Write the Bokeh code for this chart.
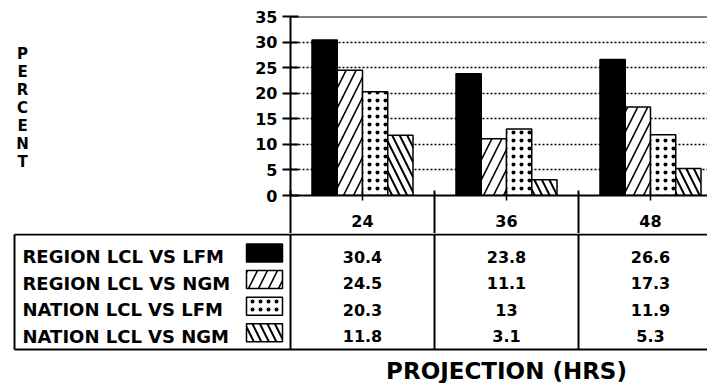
from bokeh.plotting import figure
from bokeh.layouts import column, row
from bokeh.models import Range1d, FixedTicker, Span
from bokeh.core.properties import value
from bokeh.embed import file_html
from bokeh.resources import INLINE

# ---- data ----
projections = ["24", "36", "48"]
series_names = ["REGION LCL VS LFM", "REGION LCL VS NGM",
                "NATION LCL VS LFM", "NATION LCL VS NGM"]
region_lfm = [30.4, 23.8, 26.6]
region_ngm = [24.5, 11.1, 17.3]
nation_lfm = [20.3, 13, 11.9]
nation_ngm = [11.8, 3.1, 5.3]
y_ticks = [0, 5, 10, 15, 20, 25, 30, 35]
y_label = "PERCENT"
x_title = "PROJECTION (HRS)"

series = [region_lfm, region_ngm, nation_lfm, nation_ngm]

# ---- styles ----
FONT = value("DejaVu Sans")
styles = [
    dict(fill_color="black"),
    dict(fill_color="white", hatch_pattern="/", hatch_color="black", hatch_scale=20, hatch_weight=1.6),
    dict(fill_color="white", hatch_pattern=".", hatch_color="black", hatch_scale=8, hatch_weight=1.0),
    dict(fill_color="white", hatch_pattern="\\", hatch_color="black", hatch_scale=15, hatch_weight=2),
]

PX = 144.0          # pixels per projection category
LEFT = 290.0        # pixel x of y axis
FR_TOP, FR_BOT = 16, 195   # pixel rows of chart frame
def cx(px):
    return (px - LEFT) / PX - 0.5

# ---- left panel with stacked "PERCENT" (frame aligned with chart frame) ----
figL = figure(width=245, height=233, x_range=Range1d(0, 245), y_range=Range1d(0, FR_BOT - FR_TOP),
              output_backend="svg", toolbar_location=None,
              x_axis_location=None, y_axis_location=None,
              min_border_left=0, min_border_right=0, min_border_top=FR_TOP, min_border_bottom=233 - FR_BOT)
figL.outline_line_color = None
figL.grid.visible = False
letters = list(y_label)
figL.text(x=[22] * len(letters), y=[FR_BOT - (53 + 18.1 * i) for i in range(len(letters))],
          text=letters, text_font=FONT, text_font_style="bold", text_font_size="15px",
          text_align="center", text_baseline="middle", text_color="black")

# ---- chart ----
chart = figure(width=462, height=233,
               x_range=Range1d(-0.5, -0.5 + (707 - LEFT) / PX), y_range=Range1d(0, 35),
               output_backend="svg", toolbar_location=None,
               min_border_left=45, min_border_right=0, min_border_top=FR_TOP, min_border_bottom=233 - FR_BOT)
chart.outline_line_color = None

bw = 25.25 / PX
for j, (vals, st) in enumerate(zip(series, styles)):
    xs = [k + (j - 1.5) * bw for k in range(len(projections))]
    chart.vbar(x=xs, top=vals, bottom=0, width=bw, line_color="black", line_width=1.5, **st)

chart.xgrid.visible = False
chart.ygrid.ticker = FixedTicker(ticks=y_ticks[1:-1])
chart.ygrid.grid_line_color = "black"
chart.ygrid.grid_line_dash = "2 2"
chart.ygrid.grid_line_width = 1.5

chart.yaxis.ticker = FixedTicker(ticks=y_ticks)
chart.yaxis.axis_line_width = 2
chart.yaxis.major_tick_in = 8
chart.yaxis.major_tick_out = 8
chart.yaxis.major_tick_line_width = 2
chart.yaxis.minor_tick_line_color = None
chart.yaxis.major_label_standoff = 5
chart.yaxis.major_label_text_font = "DejaVu Sans"
chart.yaxis.major_label_text_font_style = "bold"
chart.yaxis.major_label_text_font_size = "16px"
chart.yaxis.major_label_text_color = "black"

chart.xaxis.ticker = FixedTicker(ticks=list(range(len(projections))),
                                 minor_ticks=[k - 0.5 for k in range(len(projections))])
chart.xaxis.major_label_overrides = {k: lab for k, lab in enumerate(projections)}
chart.xaxis.axis_line_width = 2
chart.xaxis.major_tick_in = 5
chart.xaxis.major_tick_out = 5
chart.xaxis.major_tick_line_width = 1.5
chart.xaxis.minor_tick_in = 5
chart.xaxis.minor_tick_out = 38
chart.xaxis.minor_tick_line_width = 2
chart.xaxis.minor_tick_line_color = "black"
chart.xaxis.major_label_standoff = -19
chart.xaxis.major_label_text_font = "DejaVu Sans"
chart.xaxis.major_label_text_font_style = "bold"
chart.xaxis.major_label_text_font_size = "16px"
chart.xaxis.major_label_text_color = "black"

chart.add_layout(Span(location=35, dimension="width", line_color="black", line_width=2))

# ---- data table below ----
table = figure(width=707, height=150, x_range=Range1d(cx(0), cx(707)), y_range=Range1d(0, 150),
               output_backend="svg", toolbar_location=None,
               x_axis_location=None, y_axis_location=None,
               min_border_left=0, min_border_right=0, min_border_top=0, min_border_bottom=0)
table.outline_line_color = None
table.grid.visible = False

top_y, bot_y = 149, 34
box_l = cx(14)
# horizontal borders
table.segment(x0=[box_l, box_l], y0=[top_y, bot_y], x1=[cx(707), cx(707)], y1=[top_y, bot_y],
              line_color="black", line_width=2)
# vertical borders: legend left, axis line, column dividers
vx = [box_l] + [k - 0.5 for k in range(len(projections))]
table.segment(x0=vx, y0=[bot_y] * len(vx), x1=vx, y1=[top_y] * len(vx),
              line_color="black", line_width=2)

row_y = [127 - 26.6 * i for i in range(len(series_names))]
# legend labels
table.text(x=[cx(22)] * len(series_names), y=row_y, text=series_names,
           text_font=FONT, text_font_style="bold", text_font_size="18px",
           text_align="left", text_baseline="middle", text_color="black")
# legend swatches
for i, st in enumerate(styles):
    table.quad(left=[cx(246)], right=[cx(282)], top=[row_y[i] + 3.5 + 9], bottom=[row_y[i] + 3.5 - 9],
               line_color="black", line_width=1.5, **st)
# values
for i, vals in enumerate(series):
    table.text(x=list(range(len(projections))), y=[row_y[i]] * len(vals),
               text=[f"{v:g}" for v in vals],
               text_font=FONT, text_font_style="bold", text_font_size="16px",
               text_align="center", text_baseline="middle", text_color="black")

table.text(x=[1], y=[13], text=[x_title], text_font=FONT, text_font_style="bold",
           text_font_size="23px", text_align="center", text_baseline="middle", text_color="black")

layout = column(row(figL, chart, spacing=0), table, spacing=0)
open("out.html", "w").write(file_html(layout, INLINE))
